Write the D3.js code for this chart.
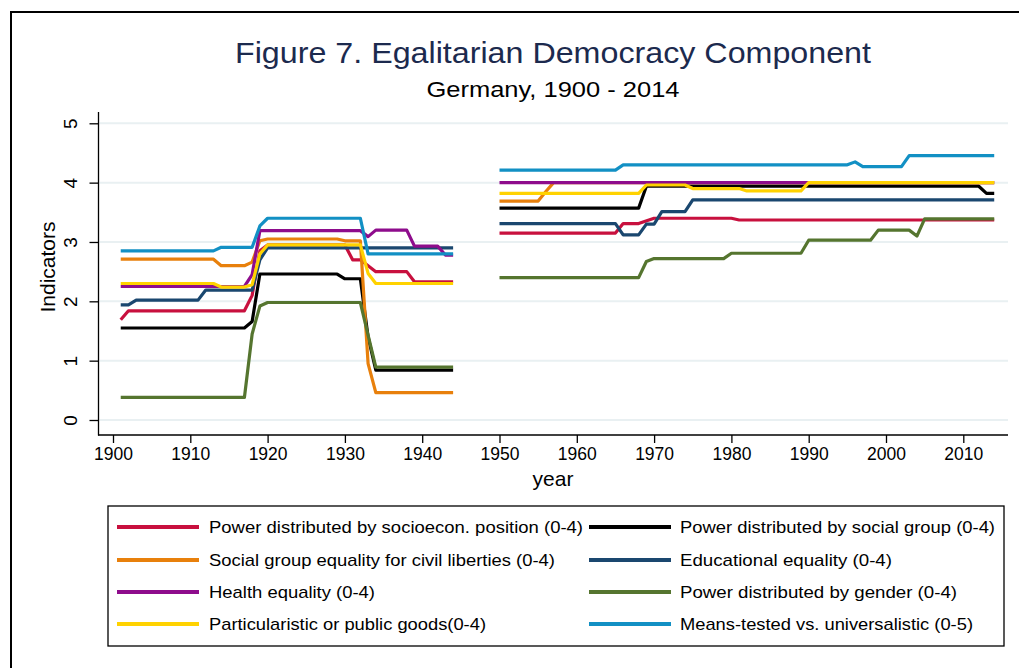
<!DOCTYPE html>
<html><head><meta charset="utf-8">
<script src="https://cdn.jsdelivr.net/npm/d3@7"></script>
<style>
body{margin:0;background:#fff;}
text{font-family:"Liberation Sans",Arial,Helvetica,sans-serif;}
</style>
</head><body>
<svg id="chart" width="1019" height="668"></svg>
<script>
// ---------- data (vertices; null = gap 1945-1949) ----------
const titleText = "Figure 7. Egalitarian Democracy Component";
const subtitleText = "Germany, 1900 - 2014";
const xLabel = "year";
const yLabel = "Indicators";
const xTicks = [1900,1910,1920,1930,1940,1950,1960,1970,1980,1990,2000,2010];
const yTicks = [0,1,2,3,4,5];

const seriesNames = [
  "Power distributed by socioecon. position (0-4)",
  "Power distributed by social group (0-4)",
  "Social group equality for civil liberties (0-4)",
  "Educational equality (0-4)",
  "Health equality (0-4)",
  "Power distributed by gender (0-4)",
  "Particularistic or public goods(0-4)",
  "Means-tested vs. universalistic (0-5)"
];
const seriesColors = ["#c8103e","#000000","#e8800c","#1a476f","#8e0c8c","#55752f","#ffd200","#1290c4"];

const socioecon = [[1901,1.69],[1902,1.84],[1917,1.84],[1918,2.10],[1919,2.85],[1920,2.95],[1930,2.95],[1931,2.70],[1932,2.70],[1933,2.60],[1934,2.50],[1938,2.50],[1939,2.33],[1944,2.33],
  [1947,null],
  [1950,3.15],[1965,3.15],[1966,3.31],[1968,3.31],[1970,3.40],[1980,3.40],[1981,3.37],[2014,3.37]];
const socialGroup = [[1901,1.55],[1917,1.55],[1918,1.66],[1919,2.46],[1929,2.46],[1930,2.38],[1932,2.38],[1933,1.40],[1934,0.84],[1944,0.84],
  [1947,null],
  [1950,3.57],[1968,3.57],[1969,3.94],[2012,3.94],[2013,3.82],[2014,3.82]];
const civilLiberties = [[1901,2.71],[1913,2.71],[1914,2.60],[1917,2.60],[1918,2.66],[1919,3.02],[1920,3.05],[1929,3.05],[1930,3.02],[1932,3.02],[1933,0.95],[1934,0.46],[1944,0.46],
  [1947,null],
  [1950,3.69],[1955,3.69],[1956,3.85],[1957,4.00],[2014,4.00]];
const educational = [[1901,1.94],[1902,1.94],[1903,2.02],[1911,2.02],[1912,2.19],[1918,2.19],[1919,2.70],[1920,2.90],[1944,2.90],
  [1947,null],
  [1950,3.31],[1965,3.31],[1966,3.12],[1968,3.12],[1969,3.30],[1970,3.30],[1971,3.51],[1974,3.51],[1975,3.71],[2014,3.71]];
const health = [[1901,2.25],[1917,2.25],[1918,2.45],[1919,3.19],[1932,3.19],[1933,3.09],[1934,3.20],[1938,3.20],[1939,2.93],[1942,2.93],[1943,2.78],[1944,2.78],
  [1947,null],
  [1950,4.00],[2014,4.00]];
const gender = [[1901,0.38],[1917,0.38],[1918,1.45],[1919,1.92],[1920,1.98],[1932,1.98],[1933,1.43],[1934,0.89],[1944,0.89],
  [1947,null],
  [1950,2.40],[1968,2.40],[1969,2.67],[1970,2.72],[1979,2.72],[1980,2.81],[1989,2.81],[1990,3.03],[1998,3.03],[1999,3.20],[2003,3.20],[2004,3.10],[2005,3.39],[2014,3.39]];
const particularistic = [[1901,2.30],[1913,2.30],[1914,2.24],[1917,2.24],[1918,2.28],[1919,2.80],[1920,2.95],[1932,2.95],[1933,2.47],[1934,2.30],[1944,2.30],
  [1947,null],
  [1950,3.82],[1968,3.82],[1969,3.96],[1974,3.96],[1975,3.90],[1981,3.90],[1982,3.86],[1989,3.86],[1990,4.00],[2014,4.00]];
const meansTested = [[1901,2.85],[1913,2.85],[1914,2.91],[1918,2.91],[1919,3.27],[1920,3.40],[1932,3.40],[1933,2.80],[1944,2.80],
  [1947,null],
  [1950,4.21],[1965,4.21],[1966,4.30],[1995,4.30],[1996,4.35],[1997,4.27],[2002,4.27],[2003,4.455],[2014,4.455]];

const seriesData = [socioecon, socialGroup, civilLiberties, educational, health, gender, particularistic, meansTested];

// ---------- layout ----------
const svg = d3.select("#chart");
const plotLeft = 98.5, plotRight = 1008, axisY = 435, plotTop = 112;
const x = d3.scaleLinear().domain([1900, 2010]).range([113, 963.3]);
const y = d3.scaleLinear().domain([0, 5]).range([420, 123.3]);

// outer frame
svg.append("path").attr("d", "M11,668 V12 H1019").attr("fill","none").attr("stroke","#000").attr("stroke-width",2);

// title
svg.append("text").attr("x",553).attr("y",63).attr("text-anchor","middle")
  .attr("font-size",30).attr("fill","#1c2a4e").attr("textLength",636).attr("lengthAdjust","spacingAndGlyphs").text(titleText);
svg.append("text").attr("x",553).attr("y",97).attr("text-anchor","middle")
  .attr("font-size",22).attr("fill","#000").attr("textLength",253).attr("lengthAdjust","spacingAndGlyphs").text(subtitleText);

// gridlines
svg.append("g").selectAll("line").data(yTicks).join("line")
  .attr("x1", plotLeft+1).attr("x2", plotRight)
  .attr("y1", d=>y(d)).attr("y2", d=>y(d))
  .attr("stroke","#e9f0f2").attr("stroke-width",2);

// x axis
const gx = svg.append("g").attr("transform",`translate(0,${axisY})`)
  .call(d3.axisBottom(x).tickValues(xTicks).tickSize(8).tickPadding(5).tickFormat(d3.format("d")));
gx.select(".domain").remove();
gx.selectAll(".tick line").attr("stroke","#000").attr("stroke-width",1.3);
gx.selectAll(".tick text").attr("font-size",17.5).attr("fill","#000").attr("font-family","Liberation Sans, Arial, sans-serif");
svg.append("line").attr("x1",plotLeft-0.5).attr("x2",plotRight).attr("y1",axisY).attr("y2",axisY).attr("stroke","#000").attr("stroke-width",1.3);

// y axis
const gy = svg.append("g").attr("transform",`translate(${plotLeft},0)`)
  .call(d3.axisLeft(y).tickValues(yTicks).tickSize(9).tickFormat(d3.format("d")));
gy.select(".domain").remove();
gy.selectAll(".tick line").attr("stroke","#000").attr("stroke-width",1.3);
gy.selectAll(".tick text").attr("font-size",19).attr("fill","#000")
  .attr("font-family","Liberation Sans, Arial, sans-serif")
  .attr("x",null).attr("dy",null).attr("text-anchor","middle")
  .attr("transform","translate(-28,0) rotate(-90)").attr("y",0).attr("dy","0.35em");
svg.append("line").attr("x1",plotLeft).attr("x2",plotLeft).attr("y1",plotTop).attr("y2",axisY+0.6).attr("stroke","#000").attr("stroke-width",1.3);

// axis titles
svg.append("text").attr("transform","translate(55,267) rotate(-90)").attr("text-anchor","middle")
  .attr("font-size",21).attr("fill","#000").text(yLabel);
svg.append("text").attr("x",553).attr("y",486).attr("text-anchor","middle")
  .attr("font-size",21).attr("fill","#000").text(xLabel);

// lines
const line = d3.line().defined(d => d[1] !== null).x(d => x(d[0])).y(d => y(d[1]));
svg.append("g").selectAll("path").data(seriesData).join("path")
  .attr("d", line).attr("fill","none")
  .attr("stroke",(d,i)=>seriesColors[i]).attr("stroke-width",3.2)
  .attr("stroke-linejoin","round").attr("stroke-linecap","butt");

// legend
const lg = svg.append("g");
lg.append("rect").attr("x",108).attr("y",506).attr("width",896).attr("height",140)
  .attr("fill","#fff").attr("stroke","#000").attr("stroke-width",1.3);
const rowY = [527, 560, 592, 624];
const colLineX = [117, 589];
const colTextX = [209, 680];
const legendWidths = [374, 315, 346, 212, 166, 277, 277, 293];
seriesNames.forEach((name, i) => {
  const col = i % 2, row = Math.floor(i / 2);
  lg.append("line").attr("x1",colLineX[col]).attr("x2",colLineX[col]+82)
    .attr("y1",rowY[row]).attr("y2",rowY[row])
    .attr("stroke",seriesColors[i]).attr("stroke-width",4);
  lg.append("text").attr("x",colTextX[col]).attr("y",rowY[row]+6)
    .attr("font-size",17).attr("fill","#000")
    .attr("textLength",legendWidths[i]).attr("lengthAdjust","spacingAndGlyphs").text(name);
});
</script>
</body></html>
